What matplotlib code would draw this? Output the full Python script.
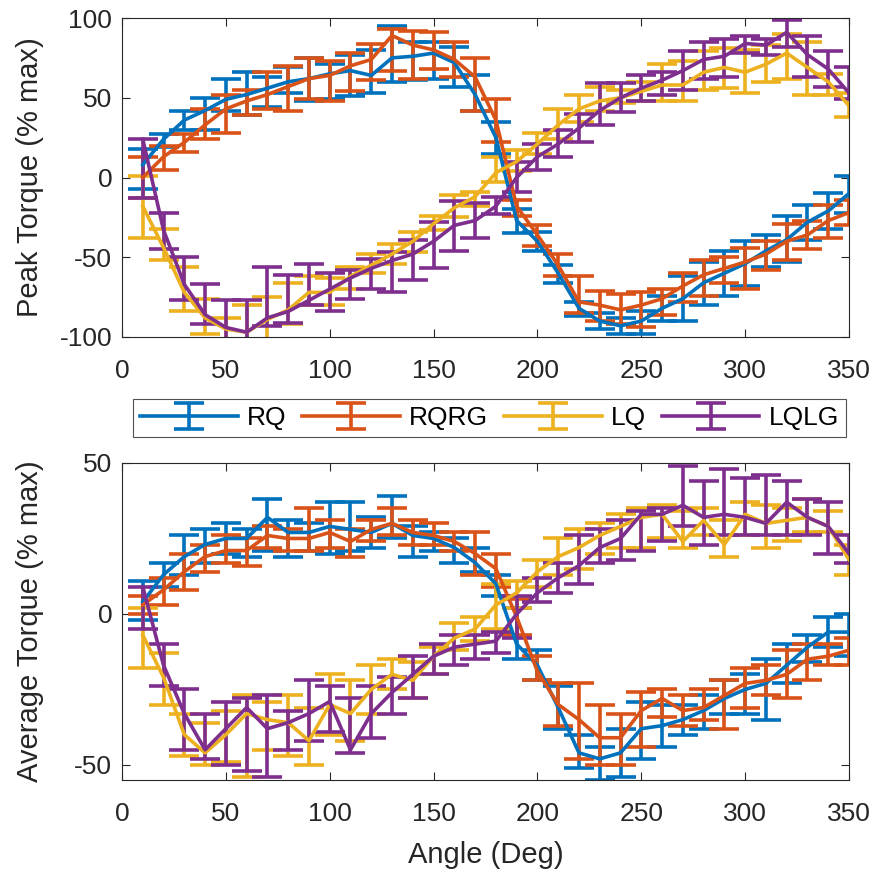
import numpy as np
import matplotlib
matplotlib.use("Agg")
import matplotlib.pyplot as plt
from matplotlib.container import ErrorbarContainer
from matplotlib.legend_handler import HandlerErrorbar

plt.rcParams["font.family"] = ["Liberation Sans", "DejaVu Sans"]
plt.rcParams["axes.unicode_minus"] = False

angles = [10, 20, 30, 40, 50, 60, 70, 80, 90, 100, 110, 120, 130, 140, 150, 160, 170, 180,
          190, 200, 210, 220, 230, 240, 250, 260, 270, 280, 290, 300, 310, 320, 330, 340, 350]

series_names = ["RQ", "RQRG", "LQ", "LQLG"]
series_colors = ["#0072BD", "#D95319", "#EDB120", "#7E2F8E"]

# ---- Peak torque (% max): line value, bar top, bar bottom ----
peak_rq = [8, 24, 36, 42, 49, 52, 56, 60, 62, 65, 67, 64, 75, 76, 78, 72, 52, 25, -27, -40,
           -60, -82, -90, -93, -90, -82, -76, -66, -60, -54, -46, -39, -28, -21, -10]
peak_rq_hi = [18, 27, 42, 50, 62, 66, 63, 69, 75, 71, 77, 80, 95, 85, 85, 82, 64, 35, -20, -34,
              -55, -78, -85, -88, -84, -74, -62, -53, -46, -40, -36, -24, -17, -10, 1]
peak_rq_lo = [-7, 19, 30, 30, 42, 39, 44, 53, 48, 49, 51, 53, 60, 61, 62, 57, 42, 15, -35, -46,
              -66, -87, -95, -98, -98, -90, -90, -80, -74, -68, -56, -53, -39, -32, -22]

peak_rqrg = [0, 13, 22, 33, 43, 48, 52, 57, 62, 64, 70, 74, 89, 83, 80, 74, 63, 36, -18, -36,
             -55, -78, -80, -83, -80, -76, -68, -61, -57, -53, -48, -40, -36, -27, -22]
peak_rqrg_hi = [13, 20, 27, 43, 52, 55, 66, 70, 75, 73, 78, 84, 93, 92, 91, 85, 75, 49, -14, -30,
                -48, -62, -71, -73, -72, -70, -60, -52, -50, -44, -40, -29, -27, -17, -14]
peak_rqrg_lo = [-13, 5, 16, 24, 28, 39, 43, 42, 49, 48, 54, 61, 67, 62, 68, 63, 42, 22, -24, -43,
                -62, -85, -90, -92, -94, -86, -78, -74, -66, -70, -58, -52, -45, -38, -30]

peak_lq = [-18, -44, -72, -88, -95, -97, -89, -83, -72, -72, -62, -55, -48, -40, -29, -19, -12, 3, 10, 21,
           33, 43, 48, 50, 54, 58, 58, 66, 69, 66, 71, 78, 69, 60, 45]
peak_lq_hi = [1, -32, -56, -76, -88, -80, -75, -66, -62, -63, -56, -48, -42, -34, -24, -11, -9, 13, 17, 28,
              43, 52, 57, 55, 60, 71, 73, 79, 81, 80, 83, 90, 85, 65, 53]
peak_lq_lo = [-38, -52, -84, -98, -104, -114, -103, -92, -80, -80, -70, -60, -54, -47, -33, -25, -18, -3, 4, 15,
              24, 35, 42, 47, 48, 48, 48, 55, 56, 53, 60, 62, 52, 52, 38]

peak_lqlg = [24, -33, -67, -86, -94, -97, -88, -84, -77, -70, -63, -57, -52, -48, -40, -30, -27, -18, 0, 13,
             21, 31, 42, 50, 56, 61, 67, 74, 76, 84, 83, 91, 77, 68, 53]
peak_lqlg_hi = [24, -22, -50, -67, -77, -77, -56, -61, -54, -60, -58, -51, -47, -39, -28, -15, -16, -12, 10, 21,
                30, 40, 59, 59, 64, 66, 79, 85, 87, 89, 87, 99, 89, 79, 69]
peak_lqlg_lo = [-13, -45, -77, -92, -111, -117, -93, -91, -80, -84, -76, -70, -72, -64, -57, -46, -38, -23, -9, 5,
                13, 22, 33, 41, 48, 52, 55, 62, 63, 78, 77, 82, 63, 57, 49]

# ---- Average torque (% max): line value, bar top, bar bottom ----
avg_rq = [4, 13, 19, 23, 25, 25, 32, 27, 27, 29, 28, 27, 30, 26, 25, 22, 17, 10, -10, -17,
          -31, -46, -48, -46, -38, -37, -35, -32, -28, -25, -23, -17, -11, -6, -6]
avg_rq_hi = [11, 17, 26, 28, 30, 28, 38, 31, 30, 37, 37, 32, 39, 29, 27, 25, 22, 13, 2, -12,
             -24, -40, -44, -38, -29, -30, -30, -27, -22, -20, -15, -10, -7, -1, 0]
avg_rq_lo = [-2, 9, 13, 17, 20, 19, 21, 19, 21, 20, 21, 22, 25, 19, 21, 17, 14, 6, -15, -22,
             -38, -51, -55, -54, -48, -44, -40, -38, -33, -33, -35, -23, -16, -11, -14]

avg_rqrg = [3, 8, 14, 19, 21, 21, 26, 25, 25, 27, 24, 28, 30, 27, 26, 24, 20, 15, -1, -19,
            -30, -35, -41, -41, -32, -28, -32, -31, -27, -23, -22, -20, -15, -14, -12]
avg_rqrg_hi = [6, 12, 20, 23, 26, 25, 29, 28, 35, 31, 28, 31, 35, 31, 30, 27, 27, 20, 5, -14,
               -23, -23, -30, -33, -26, -25, -27, -25, -22, -18, -17, -12, -10, -10, -8]
avg_rqrg_lo = [0, 3, 8, 14, 17, 16, 22, 21, 21, 22, 19, 24, 26, 23, 23, 21, 13, 9, -7, -22,
               -37, -48, -50, -50, -44, -34, -37, -35, -38, -31, -27, -28, -22, -17, -17]

avg_lq = [-7, -21, -40, -46, -40, -33, -35, -36, -42, -30, -33, -25, -20, -22, -14, -8, -5, 3, 7, 14,
          19, 22, 26, 29, 32, 33, 24, 31, 23, 33, 30, 31, 32, 29, 18]
avg_lq_hi = [2, -13, -33, -36, -32, -27, -29, -27, -31, -20, -22, -17, -15, -16, -11, -3, -1, 10, 11, 18,
             25, 28, 30, 33, 35, 36, 34, 35, 31, 37, 36, 35, 38, 34, 23]
avg_lq_lo = [-18, -30, -47, -50, -49, -54, -45, -47, -50, -40, -42, -33, -25, -28, -20, -12, -9, -5, 2, 9,
             13, 15, 20, 22, 22, 25, 22, 26, 19, 26, 22, 24, 27, 27, 13]

avg_lqlg = [9, -17, -33, -45, -38, -31, -38, -36, -33, -29, -45, -33, -26, -20, -14, -11, -10, -9, 0, 7,
            12, 16, 22, 25, 33, 33, 36, 32, 33, 32, 30, 37, 32, 29, 20]
avg_lqlg_hi = [9, -10, -25, -33, -29, -28, -27, -32, -22, -24, -28, -24, -21, -14, -10, -7, -7, -6, 6, 12,
               17, 26, 28, 31, 34, 35, 49, 44, 48, 45, 46, 44, 38, 37, 26]
avg_lqlg_lo = [-5, -24, -45, -48, -50, -52, -54, -45, -42, -39, -46, -41, -33, -28, -20, -17, -15, -13, -8, 4,
               7, 10, 17, 18, 21, 24, 29, 23, 26, 26, 26, 26, 26, 20, 17]

peak_rows = [(peak_rq, peak_rq_lo, peak_rq_hi),
             (peak_rqrg, peak_rqrg_lo, peak_rqrg_hi),
             (peak_lq, peak_lq_lo, peak_lq_hi),
             (peak_lqlg, peak_lqlg_lo, peak_lqlg_hi)]
avg_rows = [(avg_rq, avg_rq_lo, avg_rq_hi),
            (avg_rqrg, avg_rqrg_lo, avg_rqrg_hi),
            (avg_lq, avg_lq_lo, avg_lq_hi),
            (avg_lqlg, avg_lqlg_lo, avg_lqlg_hi)]

AX_COLOR = "#262626"
W = H = 873.0

fig = plt.figure(figsize=(8.73, 8.73), dpi=100)
ax_peak = fig.add_axes([122 / W, 1 - 337 / H, 727 / W, 319 / H])
ax_avg = fig.add_axes([122 / W, 1 - 780 / H, 727 / W, 317 / H])


def draw_panel(ax, rows, ylim, yticks, ylabel):
    handles = []
    for (mid, lo, hi), color, name in zip(rows, series_colors, series_names):
        mid = np.asarray(mid, dtype=float)
        lower = np.clip(mid - np.asarray(lo, dtype=float), 0, None)
        upper = np.clip(np.asarray(hi, dtype=float) - mid, 0, None)
        h = ax.errorbar(angles, mid, yerr=[lower, upper], color=color, lw=2.6,
                        elinewidth=2.6, capsize=11, capthick=2.6, label=name)
        handles.append(h)
    ax.set_xlim(0, 350)
    ax.set_xticks([0, 50, 100, 150, 200, 250, 300, 350])
    ax.set_ylim(*ylim)
    ax.set_yticks(yticks)
    ax.tick_params(axis="both", direction="in", top=True, right=True, length=5.5,
                   width=0.8, labelsize=19, colors=AX_COLOR)
    ax.tick_params(axis="x", pad=16)
    ax.tick_params(axis="y", pad=7)
    for sp in ax.spines.values():
        sp.set_color(AX_COLOR)
        sp.set_linewidth(0.8)
    ax.set_ylabel(ylabel, fontsize=21, color=AX_COLOR, va="center")
    ax.yaxis.set_label_coords((30 - 122) / 727, 0.5)
    return handles


handles = draw_panel(ax_peak, peak_rows, (-100, 100), [-100, -50, 0, 50, 100], "Peak Torque (% max)")
draw_panel(ax_avg, avg_rows, (-55, 50), [-50, 0, 50], "Average Torque (% max)")

ax_avg.set_xlabel("Angle (Deg)", fontsize=21, color=AX_COLOR, va="center")
ax_avg.xaxis.set_label_coords(0.5, (780 - 855) / 317)

leg = fig.legend(handles, series_names, loc="center", bbox_to_anchor=(489.5 / W, 1 - 418 / H),
                 ncol=4, fontsize=19, handlelength=3.7, handletextpad=0.35, columnspacing=0.6,
                 borderpad=0.25, frameon=True, fancybox=False,
                 handler_map={ErrorbarContainer: HandlerErrorbar(xerr_size=0.5)})
leg.get_frame().set_edgecolor(AX_COLOR)
leg.get_frame().set_linewidth(0.8)
for txt in leg.get_texts():
    txt.set_color("black")

fig.savefig("out.png", dpi=100)
